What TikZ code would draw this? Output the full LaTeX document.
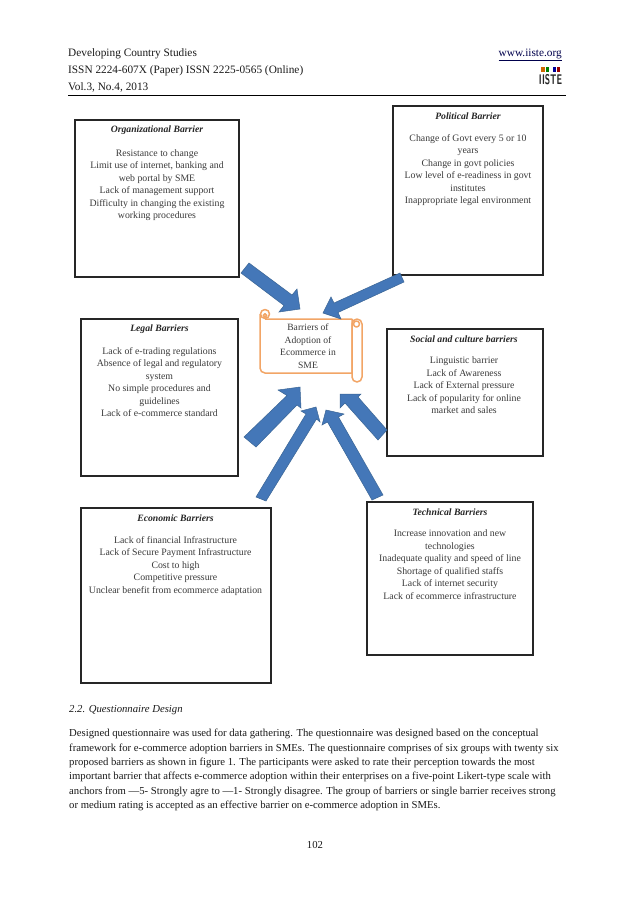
\documentclass[tikz,border=0pt]{standalone}
\usepackage{fontspec}
\setmainfont{Liberation Serif}
\definecolor{arrowfill}{HTML}{4477B8}
\definecolor{arrowline}{HTML}{3A6595}
\definecolor{scrollc}{HTML}{F2A566}
\definecolor{boxtext}{HTML}{3A3A3A}
\definecolor{pagetext}{HTML}{1A1A1A}
\tikzset{
  barrierbox/.style={draw=black!85,line width=1.6pt,fill=white},
  boxtitle/.style={font=\fontsize{9.7}{12.2}\selectfont\bfseries\itshape,text=black!85,inner sep=0pt,anchor=center},
  boxbody/.style={font=\fontsize{9.8}{12.5}\selectfont,text=boxtext,align=center,inner sep=0pt,anchor=north},
  blockarrow/.style={fill=arrowfill,draw=arrowline,line width=0.5pt,line join=miter},
  scrollline/.style={draw=scrollc,line width=1.5pt,line join=round},
  headtxt/.style={font=\fontsize{11.3}{14}\selectfont,text=pagetext,inner sep=0pt,anchor=base west},
  pagetxt/.style={font=\fontsize{10.7}{14.4}\selectfont,text=pagetext,inner sep=0pt,anchor=base west,align=left},
}
\begin{document}
\begin{tikzpicture}[x=1pt,y=-1pt]
\useasboundingbox (0,0) rectangle (638,903);
\fill[white] (0,0) rectangle (638,903);

% page header
\node[headtxt] (hd1) at (68,56) {Developing Country Studies};
\node[headtxt] (hd2) at (68,73.5) {ISSN 2224-607X (Paper) ISSN 2225-0565 (Online)};
\node[headtxt] (hd3) at (68,90) {Vol.3, No.4, 2013};
\node[headtxt,anchor=base east,text=black!70!blue] (web) at (562,56) {\underline{www.iiste.org}};
\coordinate (ruleL) at (68,95.5);
\coordinate (ruleR) at (566,95.5);
\draw[black,line width=0.8pt] (ruleL) -- (ruleR);
\node[font=\sffamily\bfseries\fontsize{14}{14}\selectfont,inner sep=0pt,text=black!85,xscale=.62,anchor=base] (logo) at (550.5,84) {IISTE};
\fill[orange!80!black] (541,67) rectangle (545,72);
\fill[green!50!black] (546,67) rectangle (549,72);
\fill[blue!60!black] (553,67) rectangle (556,72);
\fill[red!60!black] (557,67) rectangle (560,72);

% boxes
\draw[barrierbox] (75,120) rectangle (239,277);
\draw[barrierbox] (393,106) rectangle (543,275);
\draw[barrierbox] (81,319) rectangle (238,476);
\draw[barrierbox] (387,329) rectangle (543,456);
\draw[barrierbox] (81,508) rectangle (271,683);
\draw[barrierbox] (367,502) rectangle (533,655);

% box texts
\node[boxtitle] (t1) at (157,130) {Organizational Barrier};
\node[boxbody] (b1) at (157,149) {Resistance to change\\Limit  use of internet, banking and\\web portal by SME\\Lack of management support\\Difficulty in changing the existing\\working procedures};
\node[boxtitle] (t2) at (468,116) {Political Barrier};
\node[boxbody] (b2) at (468,134) {Change of Govt every 5 or 10\\years\\Change in govt policies\\Low level of e-readiness in govt\\institutes\\Inappropriate legal environment};
\node[boxtitle] (t3) at (159.5,329) {Legal Barriers};
\node[boxbody] (b3) at (159.5,347) {Lack of e-trading regulations\\Absence of legal and regulatory\\system\\No simple procedures and\\guidelines\\Lack of e-commerce  standard};
\node[boxtitle] (t4) at (464,339) {Social and culture barriers};
\node[boxbody] (b4) at (464,356.5) {Linguistic barrier\\Lack of Awareness\\Lack of External  pressure\\Lack of popularity for online\\market  and sales};
\node[boxtitle] (t5) at (175.5,518) {Economic Barriers};
\node[boxbody] (b5) at (175.5,536) {Lack of financial Infrastructure\\Lack of Secure Payment Infrastructure\\Cost to high\\Competitive pressure\\Unclear benefit from ecommerce  adaptation};
\node[boxtitle] (t6) at (450,512) {Technical Barriers};
\node[boxbody] (b6) at (450,529.5) {Increase innovation and new\\technologies\\Inadequate quality and speed of line\\Shortage of qualified  staffs\\Lack of internet security\\Lack of ecommerce  infrastructure};

% scroll
\draw[scrollline,fill=white] (260,314) -- (260,368) arc[start angle=180,end angle=270,radius=5pt] -- (352,373) -- (352,319) -- (265,319);
\draw[scrollline,fill=white] (265,314) circle[radius=4.5pt];
\draw[scrollline] (265,315.5) circle[radius=1.8pt];
\draw[scrollline,fill=white,rounded corners=5pt] (352,319) -- (362,319) -- (362,382) -- (352,382) -- cycle;
\draw[scrollline] (356.5,324) circle[radius=3pt];
\node[font=\fontsize{9.6}{12.7}\selectfont,text=boxtext,align=center,inner sep=0pt,anchor=north] (center) at (308,323.5) {Barriers of\\Adoption of\\Ecommerce in\\SME};

% block arrows
\draw[blockarrow] (241,273) -- (249,263) -- (292,295) -- (297,289) -- (300,309) -- (279,312) -- (284,305.5) -- cycle;
\draw[blockarrow] (400,273) -- (404,282) -- (338,312.5) -- (341,319) -- (323,313) -- (331,297) -- (334,303) -- cycle;
\draw[blockarrow] (244,437) -- (256,447) -- (297,405) -- (301,408) -- (300,387) -- (278,390) -- (287,395.5) -- cycle;
\draw[blockarrow] (256,497) -- (266,501) -- (316.5,419) -- (320,422) -- (316,407) -- (301,411) -- (306,414) -- cycle;
\draw[blockarrow] (372,500) -- (383,495) -- (338.5,417) -- (344,414) -- (326,410) -- (322,425) -- (327.5,422) -- cycle;
\draw[blockarrow] (378,440) -- (387,430) -- (358,397) -- (361,394) -- (340,394) -- (340,408) -- (345,403) -- cycle;

% page text
\node[pagetxt,font=\fontsize{10.7}{14.4}\selectfont\itshape] (sec) at (69,712) {2.2. Questionnaire Design};
\node[pagetxt,anchor=north west] (para) at (69,729) {Designed questionnaire was used for data gathering. The questionnaire was designed based on the conceptual\\
framework for e-commerce adoption barriers in SMEs. The questionnaire comprises of six groups with twenty six\\
proposed barriers as shown in figure 1.  The participants were asked to rate their perception towards the most\\
important barrier that affects e-commerce adoption within their enterprises on a five-point Likert-type scale with\\
anchors from —5- Strongly agre to —1- Strongly disagree. The group of barriers or single barrier receives strong\\
or medium rating is accepted as an effective barrier on e-commerce adoption in SMEs.};
\node[pagetxt,anchor=base] (pg) at (315,848) {102};
\end{tikzpicture}
\end{document}
